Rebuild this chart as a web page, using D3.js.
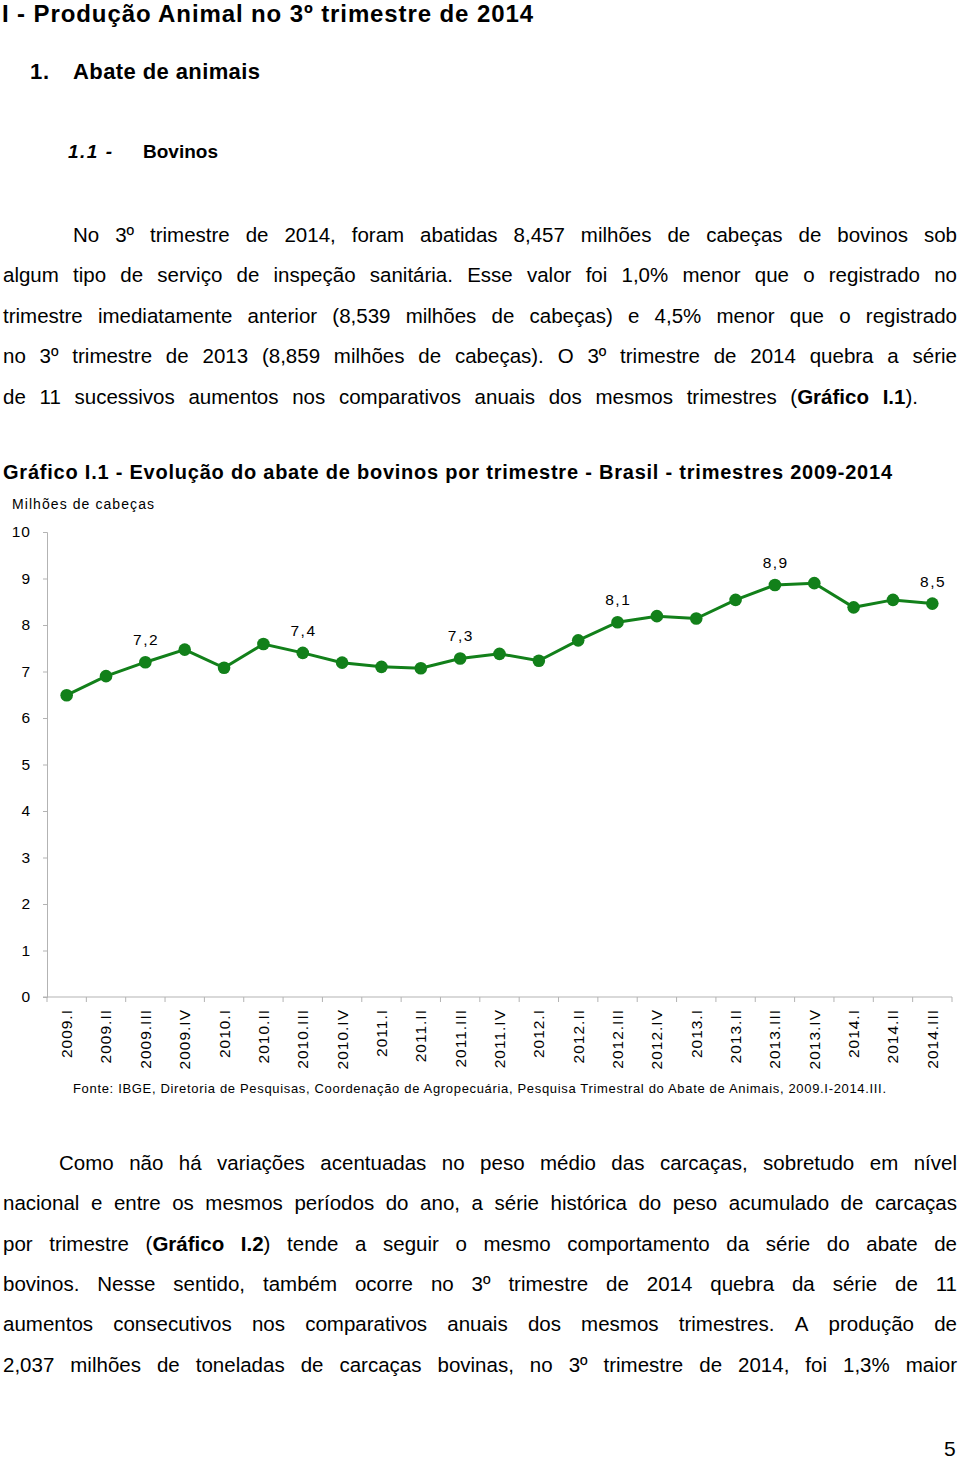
<!DOCTYPE html>
<html>
<head>
<meta charset="utf-8">
<script src="https://cdn.jsdelivr.net/npm/d3@7"></script>
<style>
html,body{margin:0;padding:0;background:#fff;}
svg{display:block;font-family:"Liberation Sans",Arial,sans-serif;}
</style>
</head>
<body>
<svg id="page" width="960" height="1459"></svg>
<script>
// ---- data ----
const categories = ["2009.I","2009.II","2009.III","2009.IV","2010.I","2010.II","2010.III","2010.IV",
  "2011.I","2011.II","2011.III","2011.IV","2012.I","2012.II","2012.III","2012.IV",
  "2013.I","2013.II","2013.III","2013.IV","2014.I","2014.II","2014.III"];
const values = [6.49,6.90,7.20,7.47,7.08,7.59,7.40,7.19,7.10,7.07,7.28,7.38,7.23,7.67,8.06,8.19,8.14,8.54,8.86,8.90,8.38,8.54,8.46];
const labeledCategories = ["2009.III","2010.III","2011.III","2012.III","2013.III","2014.III"];
const yTicks = [0,1,2,3,4,5,6,7,8,9,10];

const para1 = [
  "No 3º trimestre de 2014, foram abatidas 8,457 milhões de cabeças de bovinos sob",
  "algum tipo de serviço de inspeção sanitária. Esse valor foi 1,0% menor que o registrado no",
  "trimestre imediatamente anterior (8,539 milhões de cabeças) e 4,5% menor que o registrado",
  "no 3º trimestre de 2013 (8,859 milhões de cabeças). O 3º trimestre de 2014 quebra a série",
  "de 11 sucessivos aumentos nos comparativos anuais dos mesmos trimestres ({Gráfico} {I.1})."
];
const para2 = [
  "Como não há variações acentuadas no peso médio das carcaças, sobretudo em nível",
  "nacional e entre os mesmos períodos do ano, a série histórica do peso acumulado de carcaças",
  "por trimestre ({Gráfico} {I.2}) tende a seguir o mesmo comportamento da série do abate de",
  "bovinos. Nesse sentido, também ocorre no 3º trimestre de 2014 quebra da série de 11",
  "aumentos consecutivos nos comparativos anuais dos mesmos trimestres. A produção de",
  "2,037 milhões de toneladas de carcaças bovinas, no 3º trimestre de 2014, foi 1,3% maior"
];

const svg = d3.select("#page");
svg.append("rect").attr("width",960).attr("height",1459).attr("fill","#fff");

function fitText(x0, x1, y, txt, size, weight, style){
  const t = svg.append("text").attr("x",x0).attr("y",y).attr("font-size",size)
    .attr("font-weight",weight||"normal").attr("font-style",style||"normal").attr("fill","#000").text(txt);
  if (x1 != null) t.attr("textLength", x1-x0).attr("lengthAdjust","spacing");
  return t;
}

function justifyLine(x0, x1, y, line, size){
  const words = line.split(" ");
  const g = svg.append("g");
  const nodes = words.map(w => {
    const t = g.append("text").attr("y",y).attr("font-size",size).attr("fill","#000");
    const parts = w.split(/(\{[^}]*\})/).filter(s=>s.length);
    parts.forEach(p => {
      if (p[0]==="{") t.append("tspan").attr("font-weight","bold").text(p.slice(1,-1));
      else t.append("tspan").text(p);
    });
    return t;
  });
  const widths = nodes.map(n => n.node().getComputedTextLength());
  const total = d3.sum(widths);
  const gap = words.length>1 ? (x1-x0-total)/(words.length-1) : 0;
  let x = x0;
  nodes.forEach((n,i)=>{ n.attr("x",x); x += widths[i]+gap; });
}

// ---- headings ----
fitText(2, 533, 22, "I - Produção Animal no 3º trimestre de 2014", 24, "bold");
fitText(30, 49, 79, "1.", 22, "bold");
fitText(73, 260, 79, "Abate de animais", 22, "bold");
fitText(68, 112, 158, "1.1 -", 19, "bold", "italic");
fitText(143, 218, 158, "Bovinos", 19, "bold");

// ---- paragraph 1 ----
const p1y = [242, 282, 323, 363, 404];
para1.forEach((l,i)=> justifyLine(i===0?73:3, i===4?918:957, p1y[i], l, 20.5));

// ---- chart title ----
fitText(3, 892, 479, "Gráfico I.1 - Evolução do abate de bovinos por trimestre - Brasil - trimestres 2009-2014", 20, "bold");
fitText(12, 154, 509, "Milhões de cabeças", 14);

// ---- chart ----
const x = d3.scaleBand().domain(categories).range([47, 952]).paddingInner(0).paddingOuter(0);
const y = d3.scaleLinear().domain([0, 10]).range([997, 532]);
const axisColor = "#b3b3b3";

const yAxis = svg.append("g").attr("transform","translate(47,0)")
  .call(d3.axisLeft(y).tickValues(yTicks).tickSize(4).tickPadding(12).tickFormat(d3.format("d")));
yAxis.select(".domain").attr("stroke",axisColor).attr("stroke-width",1);
yAxis.selectAll(".tick line").attr("stroke",axisColor);
yAxis.selectAll(".tick text").attr("font-size",15.5).attr("fill","#000").attr("letter-spacing",1)
  .attr("font-family","Liberation Sans, Arial, sans-serif");

const xAxisG = svg.append("g").attr("transform","translate(0,997)");
xAxisG.append("line").attr("x1",43).attr("x2",952).attr("y1",0).attr("y2",0).attr("stroke",axisColor);
const bounds = categories.map(c=>x(c)).concat([x(categories[categories.length-1])+x.bandwidth()]);
xAxisG.selectAll("line.tk").data(bounds).join("line").attr("class","tk")
  .attr("x1",d=>d).attr("x2",d=>d).attr("y1",0).attr("y2",5).attr("stroke",axisColor);
xAxisG.selectAll("text.xl").data(categories).join("text").attr("class","xl")
  .attr("transform",d=>`translate(${x(d)+x.bandwidth()/2},12) rotate(-90)`)
  .attr("text-anchor","end").attr("dy","0.35em").attr("font-size",15.5).attr("letter-spacing",1)
  .attr("fill","#000").text(d=>d);

const data = categories.map((c,i)=>({c, v: values[i]}));
const cx = d => x(d.c)+x.bandwidth()/2;
svg.append("path").datum(data)
  .attr("d", d3.line().x(cx).y(d=>y(d.v)))
  .attr("fill","none").attr("stroke","#12801a").attr("stroke-width",3);
svg.selectAll("circle.pt").data(data).join("circle").attr("class","pt")
  .attr("cx",cx).attr("cy",d=>y(d.v)).attr("r",6.3).attr("fill","#12801a");

const fmt = v => d3.format(".1f")(v).replace(".",",");
svg.selectAll("text.dl").data(data.filter(d=>labeledCategories.includes(d.c))).join("text").attr("class","dl")
  .attr("x",d=>cx(d)+0.75).attr("y",d=>y(d.v)-17).attr("text-anchor","middle")
  .attr("font-size",15.5).attr("letter-spacing",1.5).attr("fill","#000").text(d=>fmt(d.v));

// ---- source ----
fitText(73, 886, 1093, "Fonte: IBGE, Diretoria de Pesquisas, Coordenação de Agropecuária, Pesquisa Trimestral do Abate de Animais, 2009.I-2014.III.", 13);

// ---- paragraph 2 ----
const p2y = [1170, 1210, 1251, 1291, 1331, 1372];
para2.forEach((l,i)=> justifyLine(i===0?59:3, 957, p2y[i], l, 20.5));

// ---- page number ----
fitText(944, null, 1456, "5", 21);
</script>
</body>
</html>
